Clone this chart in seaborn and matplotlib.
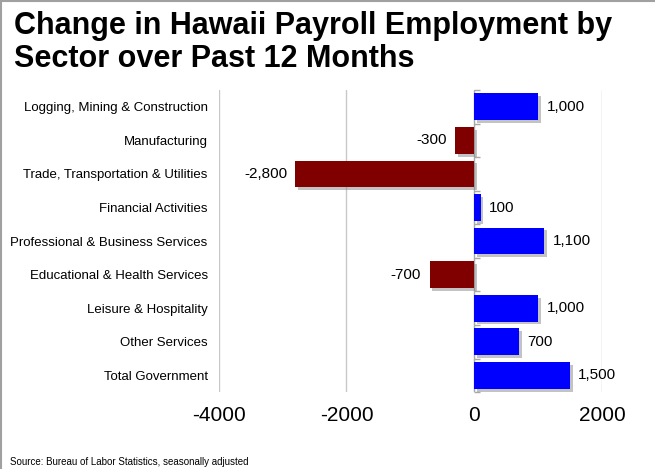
import matplotlib
matplotlib.use("Agg")
import matplotlib.pyplot as plt
import matplotlib.patheffects as pe
from matplotlib.lines import Line2D
import seaborn as sns
import pandas as pd

categories = [
    "Logging, Mining & Construction",
    "Manufacturing",
    "Trade, Transportation & Utilities",
    "Financial Activities",
    "Professional & Business Services",
    "Educational & Health Services",
    "Leisure & Hospitality",
    "Other Services",
    "Total Government",
]
values = [1000, -300, -2800, 100, 1100, -700, 1000, 700, 1500]
x_ticks = [-4000, -2000, 0, 2000]

df = pd.DataFrame({"sector": categories, "change": values})
df["sign"] = ["pos" if v >= 0 else "neg" for v in values]

sns.set_theme(style="white")
plt.rcParams["font.family"] = ["Liberation Sans", "DejaVu Sans"]

fig = plt.figure(figsize=(6.55, 4.69), dpi=100)
ax = fig.add_axes([0.334, 0.164, 0.585, 0.644])

sns.barplot(data=df, y="sector", x="change", hue="sign", orient="h",
            palette={"pos": "#0000FF", "neg": "#800000"}, width=0.8,
            legend=False, ax=ax, saturation=1)

for p in ax.patches:
    p.set_path_effects([pe.SimplePatchShadow(offset=(2, -2), shadow_rgbFace="#888888", alpha=0.5),
                        pe.Normal()])
    p.set_edgecolor("none")

for c in ax.containers:
    ax.bar_label(c, labels=[f"{v:,.0f}" for v in c.datavalues], padding=6,
                 fontsize=11, color="black")

ax.set_xlim(-4000, 2000)
ax.set_ylim(len(categories) - 0.5, -0.5)
ax.set_xticks(x_ticks)
ax.set_xticklabels([str(t) for t in x_ticks], fontsize=15, color="black")
ax.tick_params(axis="x", length=0, pad=10)
ax.tick_params(axis="y", length=0, pad=8, labelsize=9.5, labelcolor="black")
ax.set_xlabel("")
ax.set_ylabel("")
for s in ax.spines.values():
    s.set_visible(False)
for t in [-4000, -2000, 2000]:
    ax.axvline(t, color="#c8c8c8", lw=1, zorder=0)
ax.axvline(0, color="#a8a8a8", lw=1, zorder=0.5)

sec = ax.secondary_yaxis(2 / 3)
sec.set_yticks([i - 0.5 for i in range(len(categories) + 1)])
sec.set_yticklabels([])
sec.tick_params(axis="y", direction="out", length=4, color="#a8a8a8", width=1)
sec.spines["left"].set_color("#a8a8a8")
for k in ["right", "top", "bottom"]:
    if k in sec.spines:
        sec.spines[k].set_visible(False)

fig.text(0.021, 1 - 11 / 469, "Change in Hawaii Payroll Employment by\nSector over Past 12 Months",
         ha="left", va="top", fontsize=22, fontweight="bold", linespacing=1.15, color="black")
fig.text(0.015, 1 - 462 / 469, "Source: Bureau of Labor Statistics, seasonally adjusted",
         ha="left", va="center", fontsize=7, color="black")

fig.add_artist(Line2D([0.0015, 0.0015], [0, 1], color="#a0a0a0", lw=1.5, transform=fig.transFigure))
fig.add_artist(Line2D([0, 1], [0.998, 0.998], color="#a0a0a0", lw=1.5, transform=fig.transFigure))

fig.savefig("out.png", dpi=100)
